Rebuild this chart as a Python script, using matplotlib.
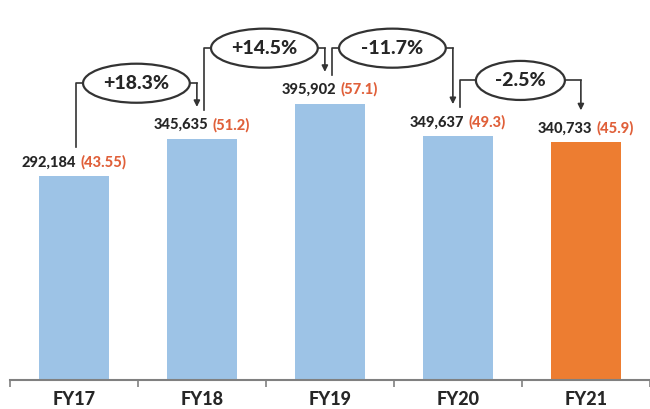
import matplotlib
matplotlib.use("Agg")
import matplotlib.pyplot as plt
from matplotlib.patches import Ellipse
from matplotlib.offsetbox import TextArea, HPacker, AnnotationBbox

years = ["FY17", "FY18", "FY19", "FY20", "FY21"]
volumes = [292184, 345635, 395902, 349637, 340733]
ratios = ["43.55", "51.2", "57.1", "49.3", "45.9"]
changes = ["+18.3%", "+14.5%", "-11.7%", "-2.5%"]

blue = "#9DC3E6"
orange = "#ED7D31"
red_txt = "#E0603A"
dark = "#262626"
line_c = "#333333"

plt.rcParams["font.family"] = ["Lato", "DejaVu Sans"]

fig = plt.figure(figsize=(6.5, 4.09), dpi=100)
ax = fig.add_axes([10 / 650, 29 / 409, 640 / 650, 380 / 409])

colors = [blue] * (len(years) - 1) + [orange]
x = list(range(len(years)))
ax.bar(x, volumes, width=0.54, color=colors, zorder=2)

ax.set_xlim(-0.5, -0.5 + 640 / 129.5)
ax.set_ylim(0, 545000)

# value labels: number in dark, ratio in orange
for i, v in enumerate(volumes):
    num = TextArea(f"{v:,}", textprops=dict(color=dark, fontsize=10.5, fontweight="black"))
    par = TextArea(f"({ratios[i]})", textprops=dict(color=red_txt, fontsize=10.5, fontweight="black"))
    box = HPacker(children=[num, par], align="baseline", pad=0, sep=3)
    ab = AnnotationBbox(box, (i, v), xybox=(0, 5), xycoords="data",
                        boxcoords="offset points", box_alignment=(0.5, 0),
                        frameon=False, pad=0)
    ax.add_artist(ab)

# change brackets between bars
for i, txt in enumerate(changes):
    x0 = i + 0.015
    x1 = i + 1 - 0.04
    level = max(volumes[i], volumes[i + 1]) + 80000
    y_start = volumes[i] + 41500
    y_tip = volumes[i + 1] + 46000
    ax.plot([x0, x0, x1], [y_start, level, level], color=line_c, lw=1.2, zorder=3)
    ax.annotate("", xy=(x1, y_tip), xytext=(x1, level),
                arrowprops=dict(arrowstyle="-|>", color=line_c, lw=1.2,
                                mutation_scale=9, shrinkA=0, shrinkB=0),
                zorder=3)
    cx = (x0 + x1) / 2
    ax.add_patch(Ellipse((cx, level), width=0.139 * len(txt), height=56000,
                         facecolor="white", edgecolor=line_c, lw=1.6, zorder=4))
    ax.text(cx, level, txt, ha="center", va="center", fontsize=14,
            fontweight="black", color=dark, zorder=5)

# axis styling
for s in ["top", "right", "left"]:
    ax.spines[s].set_visible(False)
ax.spines["bottom"].set_color("#808080")
ax.spines["bottom"].set_linewidth(1.5)
ax.set_yticks([])
ax.set_xticks(x)
ax.set_xticklabels(years, fontsize=13, fontweight="black", color=dark)
ax.tick_params(axis="x", which="major", length=0, pad=8)
ax.set_xticks([i - 0.5 for i in range(len(years) + 1)], minor=True)
ax.tick_params(axis="x", which="minor", length=5, color="#808080", width=1.2)

fig.savefig("out.png", dpi=100, facecolor="white")
